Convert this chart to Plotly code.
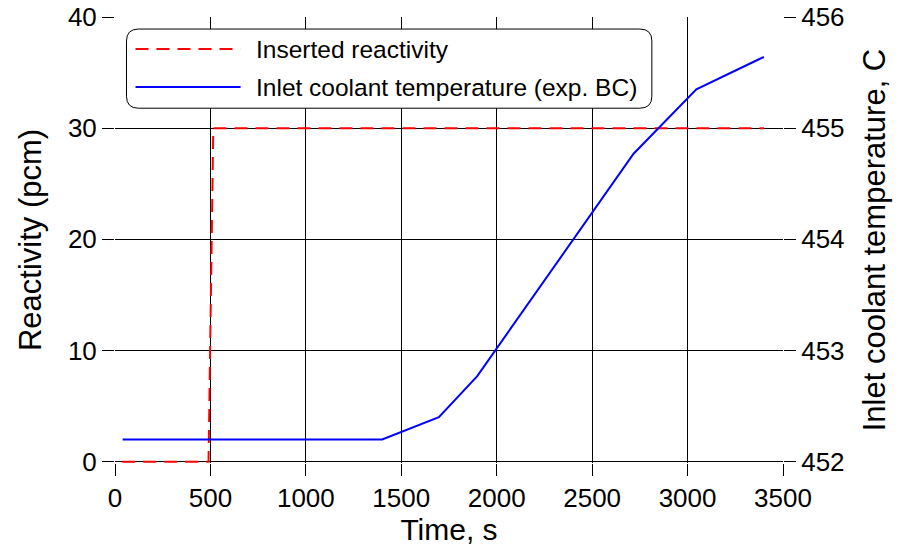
import plotly.graph_objects as go

# Inserted reactivity step (pcm)
time_react = [38, 490, 515, 3400]
reactivity = [0, 0, 30, 30]

# Inlet coolant temperature, experimental boundary condition (C)
time_temp = [40, 1400, 1697, 1898, 2717, 3046, 3374, 3400]
temp_inlet = [452.2, 452.2, 452.4, 452.77, 454.77, 455.35, 455.62, 455.64]

x_ticks = [0, 500, 1000, 1500, 2000, 2500, 3000, 3500]
y_ticks = [0, 10, 20, 30, 40]
y2_ticks = [452, 453, 454, 455, 456]

names = ["Inserted reactivity", "Inlet coolant temperature (exp. BC)"]
FONT = "Liberation Sans, Arial, sans-serif"

fig = go.Figure()
fig.add_trace(go.Scatter(x=time_react, y=reactivity, mode="lines", name=names[0],
                         line=dict(color="#ff0000", width=2, dash="13px,8px"),
                         showlegend=False))
fig.add_trace(go.Scatter(x=time_temp, y=temp_inlet, mode="lines", name=names[1],
                         yaxis="y2", line=dict(color="#0000ff", width=2),
                         showlegend=False))

axis_common = dict(showline=False, zeroline=False, showgrid=True, gridcolor="black",
                   gridwidth=1, ticks="outside", ticklen=12, tickcolor="black",
                   tickwidth=1, tickfont=dict(size=26, color="black"), automargin=False)

# small pad below 0 so the dashed line on y=0 isn't clipped in half
pad = 0.12
fig.update_layout(
    width=905, height=550,
    margin=dict(l=115, r=122, t=17, b=87),
    paper_bgcolor="white", plot_bgcolor="white",
    font=dict(family=FONT, color="black"),
    xaxis=dict(range=[0, 3500], tickvals=x_ticks,
               title=dict(text="Time, s", font=dict(size=30), standoff=6),
               **axis_common),
    yaxis=dict(range=[-pad, 40], tickvals=y_ticks,
               title=dict(text="Reactivity (pcm)", font=dict(size=31), standoff=17),
               **axis_common),
    yaxis2=dict(range=[452 - pad / 10, 456], tickvals=y2_ticks, overlaying="y", side="right",
                title=dict(text="Inlet coolant temperature, C", font=dict(size=31), standoff=19),
                **{**axis_common, "showgrid": False}),
)

# legend box with rounded corners (paper coords)
x0, x1, y0, y1 = 0.0172, 0.8037, 0.7955, 0.973
rx, ry = 0.018, 0.027
path = (f"M{x0+rx},{y1} L{x1-rx},{y1} Q{x1},{y1} {x1},{y1-ry} "
        f"L{x1},{y0+ry} Q{x1},{y0} {x1-rx},{y0} L{x0+rx},{y0} "
        f"Q{x0},{y0} {x0},{y0+ry} L{x0},{y1-ry} Q{x0},{y1} {x0+rx},{y1} Z")
fig.add_shape(type="path", path=path, xref="paper", yref="paper",
              fillcolor="white", line=dict(color="black", width=1), layer="above")

legend_rows = [(0.928, "#ff0000", "13px,8px"), (0.843, "#0000ff", "solid")]
for (yy, col, dash), name in zip(legend_rows, names):
    fig.add_shape(type="line", xref="paper", yref="paper", x0=0.0307, x1=0.188,
                  y0=yy, y1=yy, line=dict(color=col, width=2, dash=dash), layer="above")
    fig.add_annotation(x=0.208, y=yy, xref="paper", yref="paper", text=name,
                       showarrow=False, xanchor="left", yanchor="middle",
                       font=dict(size=24.5, color="black"))

fig.write_html("out.html", config={"displayModeBar": False},
               post_script="document.body.style.margin='0';")
